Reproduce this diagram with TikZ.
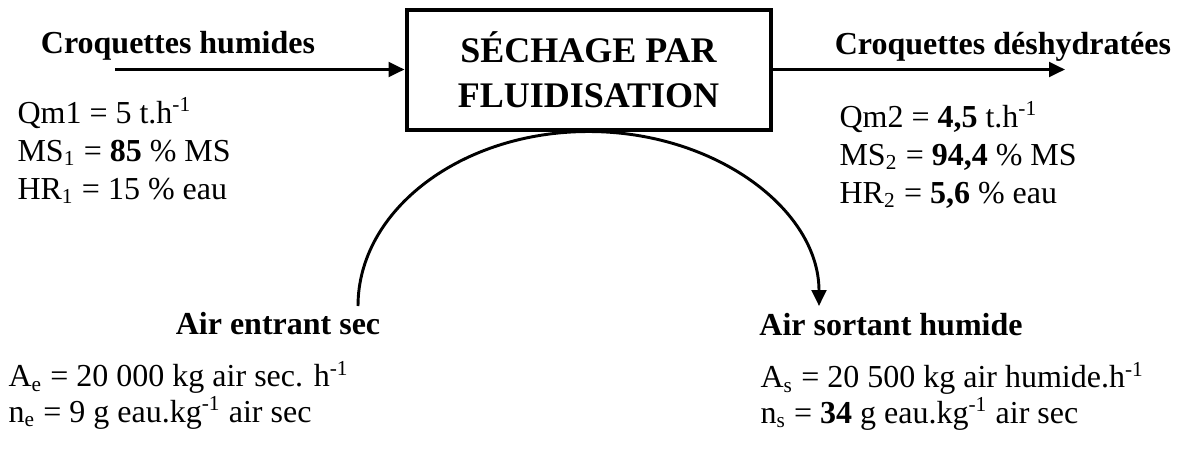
\documentclass[tikz,border=0pt]{standalone}
\usepackage{fontspec}
\setmainfont{Liberation Serif}
\usetikzlibrary{arrows.meta,positioning}

\begin{document}
\begin{tikzpicture}[
  x=0.375pt, y=0.375pt,
  procede/.style={draw, line width=1.5pt, minimum width=136.5pt, minimum height=45pt,
                  align=center, inner sep=0pt,
                  font=\fontsize{13.5}{16.9}\selectfont\bfseries},
  flux/.style={inner sep=0pt, anchor=base, font=\fontsize{12}{14.4}\selectfont\bfseries},
  bilan/.style={inner sep=0pt, anchor=base west, align=left,
                font=\fontsize{12}{14.25}\selectfont},
  bilanair/.style={bilan, font=\fontsize{12}{12.2}\selectfont},
  arr/.style={-{Triangle[length=6pt,width=5.5pt]}, line width=1.1pt},
]
  \useasboundingbox (0,0) rectangle (1184,-453);

  % the dryer
  \node[procede] (sechage) at (588.5,-69.5) {SÉCHAGE PAR\\FLUIDISATION};

  % product stream
  \coordinate (entree) at (115,-69.5);
  \coordinate (sortie) at (1065,-69.5);
  \draw[arr] (entree) -- (sechage.west);
  \draw[arr] (sechage.east) -- (sortie);
  \node[flux] (humides) at (178,-53) {Croquettes humides};
  \node[flux] (deshyd) at (1003,-54) {Croquettes déshydratées};

  % base anchor sits on the last line
  \node[bilan] (bilan1) at (17,-199)
    {Qm1 = 5 t.h\textsuperscript{-1}\\
     MS\textsubscript{1} = \textbf{85} \% MS\\
     HR\textsubscript{1} = 15 \% eau};
  \node[bilan] (bilan2) at (839,-203)
    {Qm2 = \textbf{4,5} t.h\textsuperscript{-1}\\
     MS\textsubscript{2} = \textbf{94,4} \% MS\\
     HR\textsubscript{2} = \textbf{5,6} \% eau};

  % air stream
  \coordinate (airin) at (358,-306);
  \coordinate (airout) at (819,-306);
  \draw[arr] (airin) to[out=90, in=180, out distance=36.1pt, in distance=47.6pt] (sechage.south)
                     to[out=0, in=90, out distance=47.6pt, in distance=36.1pt] (airout);
  \node[flux] (airsec) at (278,-334) {Air entrant sec};
  \node[flux] (airhum) at (891,-335) {Air sortant humide};

  \node[bilanair] (bilanae) at (8,-422)
    {A\textsubscript{e} = 20 000 kg air sec. h\textsuperscript{-1}\\
     n\textsubscript{e} = 9 g eau.kg\textsuperscript{-1} air sec};
  \node[bilanair] (bilanas) at (760,-423)
    {A\textsubscript{s} = 20 500 kg air humide.h\textsuperscript{-1}\\
     n\textsubscript{s} = \textbf{34} g eau.kg\textsuperscript{-1} air sec};
\end{tikzpicture}
\end{document}
